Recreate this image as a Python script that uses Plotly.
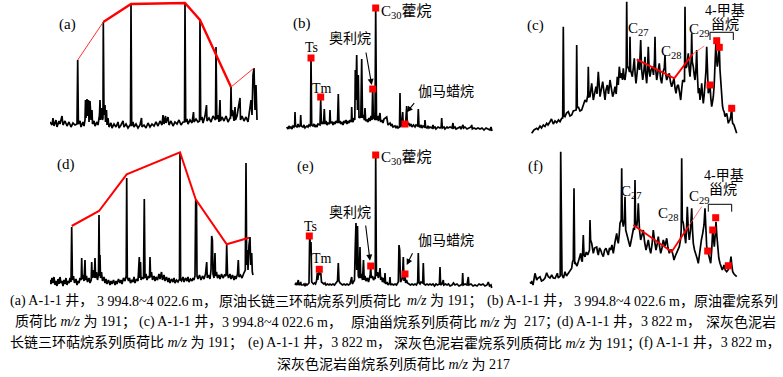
import plotly.graph_objects as go

# ---------------- data (scan index, relative abundance) ----------------
a_trace = [(0,8),(2,5),(3,12),(4,4),(6,10),(7,3),(9,9),(10,6),(12,14),(13,5),(15,9),(17,4),(19,8),(21,3),(23,7),(25,5),
 (27,6),(27.7,70),(28.4,6),(30,9),(31,3),(33,8),(34,4),(35,10),(35.5,30),(36,12),(37,31),(37.5,14),(38.5,30),(39,8),(40,29),
 (41,10),(42,20),(42.5,6),(44,9),(45,4),(47,8),(48,5),(49.5,15),(50,30),(50.5,10),(51.5,22),(52.5,10),(53,12),(53.3,108),(54,15),
 (55,25),(55.5,8),(56.5,20),(57,5),(58,12),(59,3),(61,7),(62,2),(64,6),(66,3),(68,8),(69,2),(71,5),(73,9),(74,3),(76,6),(78,2),
 (80,5),(80.5,4),(81,126),(81.7,4),(83,8),(84,3),(86,6),(88,2),(90,5),(91.5,12),(92,3),(94,5),(96,2),(98,7),(100,3),(102,6),
 (104,4),(106,8),(108,4),(110,9),(112,5),(113,15),(114,6),(115.5,14),(116,7),(118,13),(119,5),(121,9),(123,4),(125,8),(127,6),
 (129,10),(131,5),(133,8),(134.5,8),(135,127),(135.7,8),(137,11),(138,6),(140,10),(142,7),(143.5,18),(144,8),(146,11),(148,8),
 (149.5,9),(150,110),(150.7,10),(152,13),(153,7),(155,14),(156.5,25),(157,9),(159,12),(161,8),(163,14),(165.5,10),(166,83),
 (166.8,11),(168,15),(169,8),(170,30),(170.5,9),(172,13),(174,9),(176,14),(178,8),(180,12),(180.5,12),(181,43),(181.6,14),
 (182.5,20),(184,9),(185,23),(185.5,10),(187,14),(190,32),(190.5,10),(192,14),(194,9),(196,13),(198,8),(200,20),(201,30),
 (202,15),(203,55),(204,62),(205,20),(206,45),(206.5,12),(207,10)]
a_envelope = [(27.7,70),(53.3,108),(81,126),(135,127),(150,110),(181,43),(204,62)]

b_trace = [(6.7,3),(8,1),(9,4),(10,2),(11,3),(12,1),(13,4),(14,3),(14.7,5),(15,18),(15.5,4),(17,3),(18,6),(19,3),(20.3,5),
 (20.7,15),(21.2,4),(23,3),(24,5),(25,2),(27,4),(28,3),(29,5),(30,4),(30.5,5),(31,73),(31.7,5),(33,4),(34,6),(35,3),(36,5),
 (37,3),(38,6),(40,5),(40.7,30),(41.4,6),(42.5,8),(43.5,6),(44.3,21),(45,6),(46,9),(47,5),(48,7),(49.5,6),(50,20),(50.5,7),
 (52,8),(53,5),(54,8),(55,6),(56,9),(57.5,7),(58.3,36),(59,7),(60,9),(61,6),(62,8),(63,5),(64,9),(65,7),(66,10),(67,6),(68,9),
 (69,7),(70,10),(71.3,8),(71.7,23),(72.2,9),(73,8),(74,12),(74.8,10),(75.3,60),(75.8,30),(76.7,75),(77.5,20),(78.3,55),(79,12),
 (80,14),(80.8,12),(81.7,71),(82.5,12),(83.5,15),(84.3,10),(85,22),(85.7,9),(87,10),(88,8),(89,12),(90,9),(91,14),(92,10),
 (92.7,42),(93.4,11),(94,15),(95,10),(95.7,123),(96.5,10),(97.5,14),(98.5,9),(100,17),(100.7,8),(102,10),(103,7),(104,11),
 (106.7,13),(107.2,6),(108,5),(110,7),(111,4),(112,6),(113,3),(115,4),(116,2),(117,4),(118,2),(119.5,3),(120,37),(120.5,3),
 (121.5,5),(122.7,18),(123.3,4),(124.5,8),(125.5,5),(126.7,24),(127.3,5),(128.5,7),(130,4),(131,6),(132,3),(133.5,5),(135,3),
 (136,5),(137.7,4),(138.3,21),(139,4),(140,3),(141,5),(142,2),(143,4),(144.5,3),(145,10),(145.6,3),(147,2),(148,4),(149,2),
 (150,3),(152,2),(153,5),(153.5,2),(155,3),(156,1),(158,3),(160,2),(161.2,3),(161.7,12),(162.3,2),(164,3),(165,1),(167,3),
 (168,2),(170,3),(172,2),(173,7),(173.6,2),(175,3),(176,1),(178,2),(180,3),(181,1),(183,5),(183.6,2),(185,3),(187,1),(189,2),
 (191,3),(191.7,5),(192.3,1),(194,2),(196,1),(198,2),(200,1),(202,2),(204,0),(206,2),(208,1),(210,0),(211,3),(212,-1)]
b_markers = [(31,72),(40.7,33),(92.7,41),(95.7,122),(125,6)]

c_trace = [(11.7,-3.3),(14,0),(16.7,1.7),(18,0.5),(20,4),(21.5,2),(23.3,5),(25,3.5),(26.7,6.7),(28,5),(30,8.3),(31.5,11),
 (33.3,6),(35,9),(36.7,7.3),(38.5,10),(40,8.3),(41.7,11.7),(42.7,12),(43.3,103.3),(44,14),(45,13.3),(46.5,17),(48.3,18.3),
 (50,14),(51.7,15),(53.3,19),(55,20),(56.2,20),(56.7,85),(57.3,22),(58.3,23.3),(60,19),(61.7,20),(63.3,26),(65,30),(66.5,28),
 (67.8,35),(68.3,63.3),(68.9,33),(70,33.3),(71.7,46.7),(73.3,30),(74.5,38),(76,43.3),(77,36),(78.3,58.3),(80,33.3),(81.3,42),
 (82.7,48.3),(85,30),(86,40),(87.3,45),(88.5,36),(90,50),(91.3,40),(92.7,33.3),(94,38),(95,43.3),(96.2,36),(97.3,53.3),
 (98.3,45),(99.3,63.3),(100.5,52),(101.7,56.7),(102.5,50),(103.3,61.7),(104.2,52),(105,50),(106.2,60),(106.7,128.3),
 (107.3,62),(108.3,63.3),(109.5,58),(110,93.3),(110.6,60),(112.3,53.3),(113.3,62),(114.3,71.7),(115.2,55),(116,46.7),
 (117.2,58),(118.3,70),(119.5,60),(120.7,90),(121.5,62),(122.7,50),(123.8,58),(125,73.3),(125.8,55),(126.7,46.7),(127.5,60),
 (128.3,83.3),(129.2,58),(130,53.3),(131,60),(132.3,63.3),(133.5,55),(134.5,70),(135,93.3),(135.6,62),(136.7,50),(138,58),
 (139.3,66.7),(140.5,52),(141.7,46.7),(143,58),(144.3,62),(145,75),(145.7,56),(146.7,50),(148,54),(149.3,56.7),(150.5,48),
 (151.7,43.3),(153,48),(154,51.7),(155,42),(156,36.7),(157.2,44),(158.3,45),(159.5,38),(160.7,30),(161.8,42),(162.7,50),
 (164.5,48),(165,123.3),(165.6,62),(166.7,63.3),(167.5,70),(168.3,76.7),(169.2,60),(170,53.3),(171.2,70),(171.7,96.7),
 (172.3,68),(173.3,63.3),(174.2,55),(175,50),(176,62),(176.7,80),(177.4,55),(178.3,36.7),(179.2,42),(180,30),(181,38),
 (181.7,46.7),(182.5,35),(183.3,26.7),(184.2,35),(185,46.7),(186,60),(186.7,83.3),(187.4,55),(188.3,36.7),(189.2,40),
 (190,45),(190.8,32),(191.7,23.3),(192.5,28),(193.3,33.3),(194.2,45),(195,63.3),(196,90),(196.7,70),(197.3,63.3),(198.2,70),
 (199.3,83.3),(200,60),(200.7,46.7),(201.7,26.7),(202.5,24),(203.3,20),(204.2,18),(205,13.3),(206,15),(206.7,16.7),(207.5,12),
 (208.3,6.7),(209.2,9),(210,10),(210.8,14),(211.7,23.3),(212.2,10),(212.7,6.7),(214,5),(215,1.7),(216.7,-3.3)]
c_envelope = [(116.7,70.7),(154.3,51.7),(172.7,76)]
c_envelope_tail = [(172.7,76),(184.3,84)]
c_markers = [(196.7,89.3),(199.3,82.7),(190,45),(211.7,21.7)]

d_trace = [(0,10),(1,6),(2,12),(3,7),(4,13),(5,5),(6,9),(7,4),(8,11),(9,6),(10,13),(11,7),(12,9),(13,4),(14,10),(15,6),
 (16,12),(17,5),(18,9),(19,7),(20,12),(21,8),(21.7,63),(22.4,10),(23.5,14),(24.5,7),(26,11),(27,5),(28,9),(29,7),(30,12),
 (31.2,10),(31.7,32),(32.2,11),(33,15),(34,9),(35,30),(35.5,10),(36.5,14),(37.5,8),(39,12),(40,7),(41.2,10),(41.7,28),
 (42.2,12),(43.5,20),(44.3,12),(45,32),(45.6,12),(46.5,18),(47.5,10),(48.5,16),(49,75),(49.6,14),(50,35),(50.5,12),(51.5,18),
 (52.5,9),(54,13),(55,7),(56,11),(57,6),(58.5,10),(60,5),(61,9),(62,6),(63.5,10),(65,5),(66,9),(67,6),(68.5,11),(70,7),(71,10),
 (72,6),(73.5,12),(75,9),(76.2,14),(76.7,112),(77.3,13),(78.5,9),(79.5,12),(80.5,7),(82,10),(83,8),(84,13),(85,7),(86.5,11),
 (88,9),(88.8,25),(89.3,33),(89.8,12),(90.5,28),(91,10),(92,13),(93.5,11),(94.3,91),(95,12),(96,16),(97,10),(98.5,14),
 (99.5,12),(100,33),(100.6,13),(101.5,18),(102.5,10),(104,14),(105,9),(106,13),(107.5,10),(109,16),(110,11),(111.5,18),
 (112.5,10),(114,15),(115,9),(116.5,13),(118,8),(119,12),(120,7),(121.5,11),(123,8),(124,12),(125,7),(126.5,10),(128,8),
 (129.5,11),(130,137),(130.6,10),(131.5,9),(133,13),(134,8),(135.5,12),(137,9),(138,13),(139,8),(140.5,11),(142,9),(143,12),
 (144,10),(145,14),(145.7,90),(146.5,88),(147,14),(148,11),(149.5,15),(151,10),(152.5,14),(154,11),(155.5,16),(156.7,28),
 (157.3,12),(158.5,15),(160,11),(161,20),(161.7,54),(162.4,50),(163,16),(164,12),(165,37),(165.5,14),(166.5,18),(167.5,12),
 (169,15),(170,11),(171.5,16),(173,12),(174.5,15),(176,14),(176.7,45),(177.5,16),(178.5,12),(180,16),(181,11),(182.5,15),
 (184,10),(185,14),(186,11),(187.5,16),(188.3,30),(189,13),(190.5,15),(192,12),(193.5,16),(195.3,20),(196,127),(196.7,25),
 (197.5,40),(198,20),(199,45),(200,53),(200.7,25),(201.7,37),(202.3,18),(203,15)]
d_envelope = [(21.7,64),(49,79),(76.7,115.7),(130,137.7),(145.7,90.7),(176.7,45.7),(199,52.3)]

e_trace = [(15,5),(16,7),(17,5),(18.3,10),(18.8,5),(20,6),(20.7,8),(21.3,5),(23,5),(24,6),(25,4),(26,6),(27,5),(28,6),(29,7),
 (29.7,55),(30.3,45),(31,48),(31.7,8),(32.5,7),(33.5,6),(34.5,7),(35.5,6),(36.5,9),(37.3,17),(37.8,10),(38.5,15),(39.3,22),
 (40,15),(40.8,17),(41.5,8),(42.5,7),(44,6),(45,7),(46,5),(47.5,6),(49,5),(50,6),(51.5,5),(53,6),(54.5,5),(56,7),(57.5,9),
 (58.3,27),(59,9),(60,7),(61,6),(62.5,5),(64,6),(65.5,5),(67,6),(68.5,5),(70,6),(71.7,13),(72.3,6),(73.5,8),(74.5,10),(75.3,45),
 (76,67),(76.7,20),(77.5,64),(78.3,14),(79.3,12),(80,43),(80.7,12),(81.5,16),(82.5,10),(83.5,30),(84.2,10),(85,14),(86,9),
 (87.5,12),(88.5,8),(89.5,12),(90.2,15),(90.7,23),(91.3,12),(92.5,14),(93.5,10),(94.5,12),(95.2,11),(95.7,135),(96.4,14),
 (97.5,18),(98.3,12),(99.3,16),(100,22),(100.7,10),(101.5,13),(102.5,8),(103.5,12),(104.5,7),(105,17),(105.6,6),(107,8),(108,5),
 (109.5,7),(110,13),(110.5,5),(112,6),(113.5,5),(115,6),(116.5,5),(118.3,8),(119,45),(119.7,40),(120.5,8),(121.5,10),(122.5,12),
 (123.3,33),(124,9),(125,16),(125.6,7),(126.5,10),(127.5,7),(129,6),(130.5,5),(132,6),(133.5,5),(135,6),(136.5,5),(137.7,8),
 (138.3,37),(139,7),(140,6),(141,8),(142.7,7),(143.3,27),(144,6),(145.5,5),(147,6),(148.5,5),(150,6),(151.5,5),(153,6),(154.5,4),
 (156,6),(157.5,5),(159.4,6),(160,23),(160.6,5),(162,6),(163.3,10),(163.8,5),(165.5,6),(167,5),(168.5,6),(170,4),(172,5),
 (173.5,7),(175,5),(177,6),(179,4),(181,5),(182.2,6),(182.7,17),(183.2,5),(185,6),(187,5),(188.3,13),(188.9,5),(191,6),(193,4),
 (195,5),(197,4),(199,6),(201,5),(203,6),(205,4),(207,5),(208.3,8),(209.5,4),(211,5),(211.7,2)]
e_markers = [(29.3,54),(39.3,20.7),(90.7,24),(95.7,135),(125,16)]

f_trace = [(10,6.7),(11.7,8.3),(13,5),(15,16.7),(16.7,10),(18,12),(20,13.3),(21.5,9),(23.3,10),(25,12),(26.7,17.3),(28.3,13.3),
 (30,12),(31.7,15),(33.3,12),(35,11.7),(36.2,14),(37.3,16.7),(38.3,12),(39.3,13.3),(40.2,14),(40.7,138.3),(41.3,15),(42,15),
 (43.5,12),(45,18.3),(46.5,14),(48.3,16.7),(50,19),(51.7,21.7),(52.5,28),(53.3,30),(54,101.7),(54.7,26),(55.5,27),(57,24),
 (58.3,28.3),(59.5,32),(60.7,36.7),(61.5,30),(62.3,28.3),(63.3,55),(64,35),(65,33.3),(66.3,38),(67.7,35),(68.7,38),(69.5,40),
 (70,70),(70.6,50),(71.7,46.7),(72.5,40),(73.3,36.7),(74.6,42),(76,43.3),(76.7,43),(77.5,38),(78.3,35),(79.5,42),(80.7,40),
 (82,36),(83.3,33.3),(84.6,40),(86,41.7),(87.2,38),(88.3,35),(89.5,42),(90.7,40),(92,45),(93.3,36.7),(95,48),(96.7,56.7),
 (97.5,50),(98.3,46.7),(99.2,55),(100,66.7),(101.2,70),(101.7,121.7),(102.3,70),(103.3,63.3),(104.3,70),(105,93.3),(105.7,60),
 (107.3,53.3),(108.6,48),(110,43.3),(111.3,50),(112.7,56.7),(113.6,62),(114.5,60),(115,110),(115.6,65),(116.7,63.3),(117.5,70),
 (118.3,86.7),(119.5,60),(120.7,50),(122,55),(123.3,60),(124.6,48),(126,40),(127.2,45),(128.3,50),(129.5,42),(130.7,36.7),
 (132,45),(133.3,60),(134.7,48),(136,40),(137.2,46),(138.3,53.3),(139.5,44),(140.7,36.7),(142,42),(143.3,50),(145,44),
 (146.7,51.7),(148,42),(149.3,36.7),(150.5,40),(151.7,40),(153,35),(154,30),(155.3,34),(156.7,36.7),(158,40),(159.3,43.3),
 (160.5,50),(161.2,60),(161.7,131.7),(162.3,70),(163.3,66.7),(164.5,55),(165.7,46.7),(166.5,60),(167.3,83.3),(168.3,60),
 (169.3,50),(170.5,60),(171.7,81.7),(172.5,60),(173.3,46.7),(174.5,40),(175.7,36.7),(177,32),(178.3,26.7),(179.2,35),(180,43.3),
 (181.4,50),(182.7,56.7),(184,65),(185,81.7),(185.8,60),(186.7,43.3),(187.5,40),(188.3,36.7),(189.5,32),(190.7,26.7),
 (191.7,40),(192.7,60),(193.5,52),(194.3,43.3),(195.2,55),(196,68.3),(196.8,55),(197.7,40),(198.8,32),(200,26.7),(201.2,22),
 (202.3,20),(203.2,22),(204,25),(205.3,20),(206.7,18.3),(208,20),(209,21.7),(210,26),(211,33.3),(211.8,25),(212.7,18.3),
 (214,16),(215,15),(216.7,13.3)]
f_envelope = [(113.3,65),(151.7,38.3),(168.3,63.3)]
f_envelope_tail = [(168.3,63.3),(181.7,83.3)]
f_markers = [(187.7,39),(192.7,60),(195.7,72.3),(208.3,24.3)]

# annotation furniture (bracket over 4-methyl steranes)
c_bracket_x = [190, 190, 213.3, 213.3]
c_bracket_h = [90, 97.7, 97.7, 90]
f_bracket_x = [188.3, 188.3, 211.7, 211.7]
f_bracket_h = [78.3, 85.7, 85.7, 78.3]

# caption, split into justified chunks per line
caption_chunks = [
    ["(a) A-1-1 井，", "3 994.8~4 022.6 m，", "原油长链三环萜烷系列质荷比", "<i>m/z</i> 为 191；",
     "(b) A-1-1 井，", "3 994.8~4 022.6 m，", "原油霍烷系列"],
    ["质荷比 <i>m/z</i> 为 191；", "(c) A-1-1 井，", "3 994.8~4 022.6 m，", "原油甾烷系列质荷比", "<i>m/z</i> 为",
     "217；", "(d) A-1-1 井，3 822 m，", "深灰色泥岩"],
    ["长链三环萜烷系列质荷比 <i>m/z</i> 为 191；", "(e) A-1-1 井，3 822 m，",
     "深灰色泥岩霍烷系列质荷比 <i>m/z</i> 为 191；", "(f) A-1-1 井，3 822 m，"],
    ["深灰色泥岩甾烷系列质荷比 <i>m/z</i> 为 217"],
]

# ---------------- layout ----------------
W, H = 783, 377
SERIF = "Liberation Serif, Noto Sans CJK SC"
# panel: (left px, width px, top px, bottom px, h at top, h at bottom)
panel_geo = {
    1: (50, 212, 0, 135, 130, -5),
    2: (280, 240, 0, 135, 130, -5),
    3: (520, 263, 0, 135, 130, -5),
    4: (50, 212, 140, 295, 150, -5),
    5: (280, 240, 140, 295, 150, -5),
    6: (520, 263, 140, 295, 150, -5),
}
# caption chunk placement: (x px, anchor) per chunk; line y px
caption_x = [
    [(8, "left"), (95, "left"), (217, "left"), (405, "left"), (485, "left"), (572, "left"), (780, "right")],
    [(13, "left"), (137, "left"), (220, "left"), (349, "left"), (519, "right"), (522, "left"), (555, "left"), (778, "right")],
    [(8, "left"), (246, "left"), (392, "left"), (783, "right")],
    [(394, "center")],
]
caption_y = [301, 322, 343, 364]

def ref(i):
    return ("x" if i == 1 else f"x{i}", "y" if i == 1 else f"y{i}")

fig = go.Figure()
layout = dict(width=W, height=H, margin=dict(l=0, r=0, t=0, b=0),
              paper_bgcolor="white", plot_bgcolor="white", showlegend=False)
for i, (x0, w, top, bot, htop, hbot) in panel_geo.items():
    sx = "" if i == 1 else str(i)
    layout[f"xaxis{sx}"] = dict(domain=[x0 / W, (x0 + w) / W], range=[0, w], visible=False,
                                anchor=ref(i)[1], fixedrange=True)
    layout[f"yaxis{sx}"] = dict(domain=[(H - bot) / H, (H - top) / H], range=[hbot, htop], visible=False,
                                anchor=ref(i)[0], fixedrange=True)
fig.update_layout(**layout)

def add_line(i, pts, color="black", width=1.7):
    xr, yr = ref(i)
    fig.add_trace(go.Scatter(x=[p[0] for p in pts], y=[p[1] for p in pts], mode="lines",
                             line=dict(color=color, width=width), xaxis=xr, yaxis=yr, hoverinfo="skip"))

def add_markers(i, pts, size=7):
    xr, yr = ref(i)
    fig.add_trace(go.Scatter(x=[p[0] for p in pts], y=[p[1] for p in pts], mode="markers",
                             marker=dict(color="#ff0000", size=size, symbol="square"),
                             xaxis=xr, yaxis=yr, hoverinfo="skip"))

# chromatograms
add_line(1, a_trace)
add_line(2, b_trace)
add_line(3, c_trace)
add_line(4, d_trace)
add_line(5, e_trace)
add_line(6, f_trace)

# red envelope lines
add_line(1, a_envelope[:2], "#ff3030", 1.0)
add_line(1, a_envelope[1:-1], "#ff0000", 2.4)
add_line(1, a_envelope[-2:], "#ff3030", 1.0)
add_line(4, d_envelope, "#ff0000", 2.0)
add_line(3, c_envelope, "#ff0000", 2.0)
add_line(3, c_envelope_tail, "#ff5050", 0.8)
add_line(6, f_envelope, "#ff0000", 1.8)
add_line(6, f_envelope_tail, "#ff5050", 0.8)

# brackets
add_line(3, list(zip(c_bracket_x, c_bracket_h)), "black", 1.0)
add_line(6, list(zip(f_bracket_x, f_bracket_h)), "black", 1.0)

# markers
add_markers(2, b_markers)
add_markers(5, e_markers)
add_markers(3, c_markers)
add_markers(6, f_markers)

def label(i, text, x, y, size=14, xanchor="center"):
    xr, yr = ref(i)
    fig.add_annotation(text=text, x=x, y=y, xref=xr, yref=yr, showarrow=False,
                       xanchor=xanchor, yanchor="middle",
                       font=dict(family=SERIF, size=size, color="black"))

def arrow(i, tail, head):
    xr, yr = ref(i)
    fig.add_annotation(text=" ", x=head[0], y=head[1], ax=tail[0], ay=tail[1], xref=xr, yref=yr,
                       axref=xr, ayref=yr, showarrow=True, arrowhead=2, arrowsize=1.1,
                       arrowwidth=1.1, arrowcolor="black", font=dict(size=6))

# panel letters
label(1, "(a)", 17, 106, 15)
label(2, "(b)", 21.7, 107, 15)
label(3, "(c)", 15, 105, 15)
label(4, "(d)", 16, 125, 15)
label(5, "(e)", 25, 123, 15)
label(6, "(f)", 15, 123, 15)

# hopane panels
label(2, "Ts", 31.7, 83, 14)
label(2, "Tm", 41.7, 42, 14)
label(2, "C<sub>30</sub>藿烷", 99, 118, 15, "left")
label(2, "奥利烷", 70, 92, 14)
label(2, "伽马蜡烷", 165.7, 39, 14)
arrow(2, (85, 83), (91.7, 45))
arrow(2, (136.7, 30), (126.7, 17.7))

label(5, "Ts", 30.7, 63.3, 14)
label(5, "Tm", 41.7, 31.7, 14)
label(5, "C<sub>30</sub>藿烷", 99, 131.7, 15, "left")
label(5, "奥利烷", 70, 78.3, 14)
label(5, "伽马蜡烷", 165.7, 49.3, 14)
arrow(5, (85, 70), (90, 29.3))
arrow(5, (135, 41.7), (126.7, 25))

# sterane panels
label(3, "C<sub>27</sub>", 118.3, 101, 15)
label(3, "C<sub>28</sub>", 151.7, 78, 15)
label(3, "C<sub>29</sub>", 179, 100, 15)
label(3, "4-甲基", 205, 120, 14)
label(3, "甾烷", 205, 106, 14)

label(6, "C<sub>27</sub>", 111.7, 98, 15)
label(6, "C<sub>28</sub>", 148.3, 76, 15)
label(6, "C<sub>29</sub>", 179, 93, 15)
label(6, "4-甲基", 204, 115, 14)
label(6, "甾烷", 203.3, 100, 14)

# caption
for chunks, places, py in zip(caption_chunks, caption_x, caption_y):
    for text, (px, anc) in zip(chunks, places):
        fig.add_annotation(text=text, x=px / W, y=(H - py) / H, xref="paper", yref="paper",
                           showarrow=False, xanchor=anc, yanchor="middle",
                           font=dict(family=SERIF, size=14, color="black"))

fig.write_html("out.html", config={"displayModeBar": False},
               post_script="document.body.style.margin='0';document.body.style.overflow='hidden';")
